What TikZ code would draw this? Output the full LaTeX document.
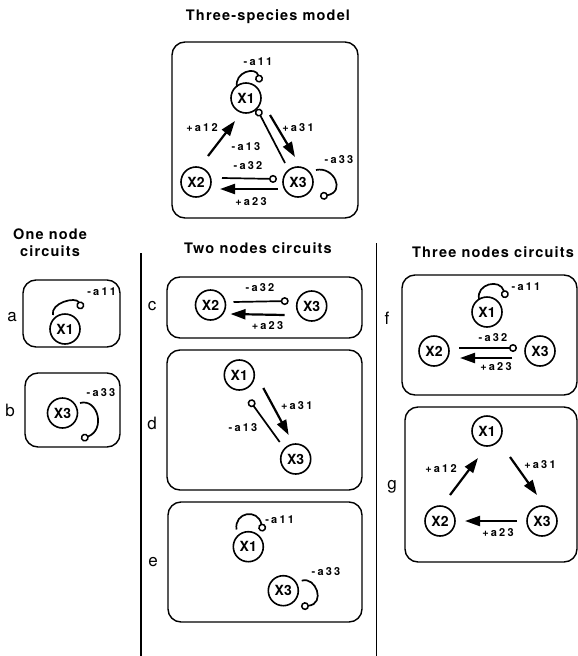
\documentclass[tikz,border=0pt]{standalone}
\usepackage{fontspec}
\setmainfont{TeX Gyre Heros}
\newfontfamily\headfont[LetterSpace=8]{TeX Gyre Heros}
\newfontfamily\coeffont[LetterSpace=20]{TeX Gyre Heros}
\usetikzlibrary{arrows.meta,calc}

\tikzset{
  sp/.style={circle, draw, line width=1.6pt, minimum size=30pt, inner sep=0pt,
    font=\bfseries\fontsize{14}{14}\selectfont},
  panel/.style={draw, line width=1.4pt, rounded corners=13pt},
  divider/.style={line width=1.5pt},
  act/.style={line width=2.2pt, -{Triangle[length=15pt,width=10pt]}},
  inh/.style={line width=1.7pt, -{Circle[open,length=8pt,width=8pt,line width=1.5pt]}},
  coef/.style={inner sep=0pt, font=\coeffont\bfseries\fontsize{11}{11}\selectfont},
  head/.style={inner sep=0pt, align=center, font=\headfont\bfseries\fontsize{14.5}{17}\selectfont},
  tag/.style={inner sep=0pt, font=\fontsize{17}{17}\selectfont}
}

\begin{document}
\begin{tikzpicture}[x=1pt,y=-1pt]
\useasboundingbox (0,0) rectangle (578,656);

% ---- full three-species model ----
\node[head] (tmodel) at (268,17) {Three-species model};
\draw[panel] (172,42) rectangle (358,218);
\node[sp] (A1) at (246,98) {X1};
\node[sp] (A2) at (196,182) {X2};
\node[sp] (A3) at (298,182) {X3};
\draw[inh] ($(A1)+(-9,-11)$) .. controls ($(A1)+(-12,-26)$) and ($(A1)+(10,-32)$) .. ($(A1)+(14,-15.5)$);
\draw[act] ($(A2)+(12,-26)$) -- ($(A1)+(-11,23)$);
\draw[act] ($(A1)+(24,17)$) -- ($(A3)+(-3,-25)$);
\draw[inh] ($(A3)+(-13,-19)$) -- ($(A1)+(11,11)$);
\draw[inh] ($(A2)+(26,-4)$) -- ($(A3)+(-21,-3)$);
\draw[act] ($(A3)+(-20,7)$) -- ($(A2)+(24,7)$);
\draw[inh] ($(A3)+(18,-12)$) .. controls ($(A3)+(36,-16)$) and ($(A3)+(48,10)$) .. ($(A3)+(22,14.5)$);
\node[coef] (A11) at (258,62) {-a11};
\node[coef] (A12) at (202,128) {+a12};
\node[coef] (A31) at (298,128) {+a31};
\node[coef] (A13) at (246,147) {-a13};
\node[coef] (A32) at (248,166) {-a32};
\node[coef] (A23) at (251,202) {+a23};
\node[coef] (A33) at (339,160) {-a33};

% ---- column dividers ----
\draw[divider] (141,253) -- (141,656);
\draw[divider] (376.5,243) -- (376.5,656);

% ---- one node circuits ----
\node[head] (tone) at (50,243) {One node\\circuits};

\draw[panel] (23,280) rectangle (120,347);
\node[tag] (ta) at (12,317) {a};
\node[sp] (a1) at (65,329) {X1};
\draw[inh] ($(a1)+(-12,-14)$) .. controls ($(a1)+(-15,-26)$) and ($(a1)+(11,-33)$) .. ($(a1)+(17,-20)$);
\node[coef] (a11) at (101.7,291.7) {-a11};

\draw[panel] (25,373) rectangle (120,447);
\node[tag] (tb) at (10,410) {b};
\node[sp] (b3) at (62.5,413) {X3};
\draw[inh] ($(b3)+(17.5,-10)$) .. controls ($(b3)+(35.5,-15)$) and ($(b3)+(43.5,17)$) .. ($(b3)+(18.5,26)$);
\node[coef] (b33) at (101,393) {-a33};

% ---- two nodes circuits ----
\node[head] (ttwo) at (258,248) {Two nodes circuits};

\draw[panel] (167,277) rectangle (362,338);
\node[tag] (tc) at (152,306) {c};
\node[sp] (c2) at (210.5,305) {X2};
\node[sp] (c3) at (311.7,306) {X3};
\draw[inh] ($(c2)+(23,-3)$) -- ($(c3)+(-23,-5)$);
\draw[act] ($(c3)+(-27,9)$) -- ($(c2)+(20,9)$);
\node[coef] (c32) at (260,288) {-a32};
\node[coef] (c23) at (267.5,326) {+a23};

\draw[panel] (167,350) rectangle (362,490);
\node[tag] (td) at (152,423) {d};
\node[sp] (d1) at (239.3,375) {X1};
\node[sp] (d3) at (295.7,459) {X3};
\draw[act] ($(d1)+(24,13)$) -- ($(d3)+(-7,-24)$);
\draw[inh] ($(d3)+(-16,-17)$) -- ($(d1)+(10,25)$);
\node[coef] (d31) at (296.7,406) {+a31};
\node[coef] (d13) at (243,428) {-a13};

\draw[panel] (168,502) rectangle (362,622);
\node[tag] (te) at (153,562) {e};
\node[sp] (e1) at (248.3,546.7) {X1};
\node[sp] (e3) at (283.3,590.7) {X3};
\draw[inh] ($(e1)+(-11.8,-17.2)$) .. controls ($(e1)+(-14.3,-34.7)$) and ($(e1)+(9.7,-38.7)$) .. ($(e1)+(14.7,-15.2)$);
\draw[inh] ($(e3)+(18.4,-10)$) .. controls ($(e3)+(32.7,-14.7)$) and ($(e3)+(42.7,13.3)$) .. ($(e3)+(17.7,15.8)$);
\node[coef] (e11) at (279.7,519.3) {-a11};
\node[coef] (e33) at (326,571.7) {-a33};

% ---- three nodes circuits ----
\node[head] (tthree) at (493,252) {Three nodes circuits};

\draw[panel] (402,275) rectangle (577,395);
\node[tag] (tf) at (387,318) {f};
\node[sp] (f1) at (487,312) {X1};
\node[sp] (f2) at (434,351) {X2};
\node[sp] (f3) at (540,351) {X3};
\draw[inh] ($(f1)+(-8,-13)$) .. controls ($(f1)+(-11,-28)$) and ($(f1)+(13,-34)$) .. ($(f1)+(19,-14)$);
\draw[inh] ($(f2)+(25,-3)$) -- ($(f3)+(-23,-3)$);
\draw[act] ($(f3)+(-28,7)$) -- ($(f2)+(26,7)$);
\node[coef] (f11) at (526,287) {-a11};
\node[coef] (f32) at (493,338) {-a32};
\node[coef] (f23) at (496,367) {+a23};

\draw[panel] (405,407) rectangle (577,562);
\node[tag] (tg) at (392,487) {g};
\node[sp] (g1) at (487,431) {X1};
\node[sp] (g2) at (440,521) {X2};
\node[sp] (g3) at (542,521) {X3};
\draw[act] ($(g2)+(10,-26)$) -- ($(g1)+(-9,27)$);
\draw[act] ($(g1)+(23,26)$) -- ($(g3)+(-5,-26)$);
\draw[act] ($(g3)+(-25,0)$) -- ($(g2)+(25,0)$);
\node[coef] (g12) at (441,469) {+a12};
\node[coef] (g31) at (540,465) {+a31};
\node[coef] (g23) at (498,533) {+a23};
\end{tikzpicture}
\end{document}
